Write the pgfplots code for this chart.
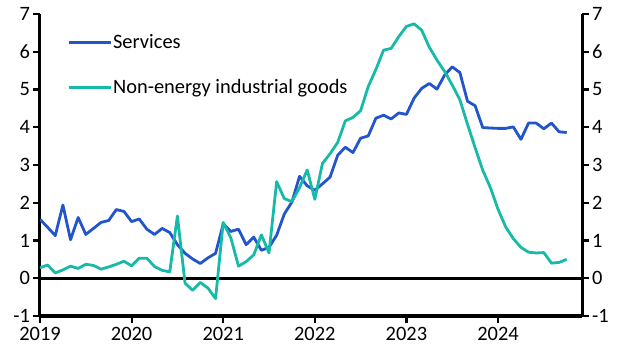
\documentclass[border=0pt]{standalone}
\usepackage{fontspec}
\setmainfont{Carlito}
\usepackage{pgfplots}
\usepackage{pgfplotstable}
\pgfplotsset{compat=1.18}
\definecolor{servblue}{RGB}{34,85,204}
\definecolor{goodteal}{RGB}{22,186,166}
\pgfplotstableread{
m serv good
0 1.56 0.28
1 1.35 0.35
2 1.13 0.14
3 1.94 0.22
4 1.02 0.32
5 1.61 0.26
6 1.16 0.37
7 1.32 0.34
8 1.48 0.24
9 1.53 0.30
10 1.82 0.37
11 1.77 0.45
12 1.50 0.33
13 1.57 0.53
14 1.30 0.53
15 1.16 0.31
16 1.32 0.21
17 1.21 0.17
18 0.89 1.65
19 0.66 -0.13
20 0.51 -0.32
21 0.39 -0.11
22 0.54 -0.26
23 0.66 -0.54
24 1.44 1.48
25 1.24 1.07
26 1.30 0.32
27 0.89 0.44
28 1.09 0.62
29 0.74 1.15
30 0.82 0.67
31 1.14 2.56
32 1.70 2.11
33 2.02 2.03
34 2.70 2.40
35 2.45 2.87
36 2.33 2.09
37 2.50 3.04
38 2.68 3.30
39 3.26 3.60
40 3.47 4.17
41 3.33 4.26
42 3.71 4.44
43 3.77 5.08
44 4.24 5.53
45 4.32 6.04
46 4.22 6.09
47 4.38 6.40
48 4.34 6.67
49 4.77 6.74
50 5.03 6.57
51 5.16 6.12
52 5.01 5.78
53 5.38 5.48
54 5.60 5.12
55 5.45 4.73
56 4.69 4.08
57 4.57 3.46
58 3.99 2.86
59 3.98 2.40
60 3.97 1.83
61 3.97 1.36
62 4.01 1.05
63 3.68 0.82
64 4.11 0.69
65 4.11 0.67
66 3.96 0.68
67 4.11 0.40
68 3.88 0.42
69 3.86 0.50
}\datatable
\begin{document}
\begin{tikzpicture}
\useasboundingbox (-40bp,-39bp) rectangle (587bp,316bp);
\pgfplotsset{
  common/.style={
    width=542bp, height=302bp, scale only axis,
    at={(0,0)}, anchor=south west,
    xmin=0, xmax=71, ymin=-1, ymax=7,
    ytick={-1,0,...,7},
    axis line style={line width=3bp, black, -},
    tick style={line width=2.2bp, black},
    major tick length=6.5bp,
    tick align=outside,
    ticklabel style={font=\fontsize{20.5}{24}\selectfont},
    /pgf/number format/assume math mode=true,
  }
}
\begin{axis}[common,
  axis x line*=bottom, axis y line*=left,
  xtick={0,12,...,60},
  xticklabels={2019,2020,2021,2022,2023,2024},
  xticklabel style={yshift=-1bp},
  extra y ticks={0},
  extra y tick labels={},
  extra y tick style={grid=major, major grid style={line width=3bp, black}, major tick length=0pt},
  legend style={draw=none, fill=none, at={(0.05,0.935)}, anchor=north west,
    font=\fontsize{20.5}{24}\selectfont, row sep=27bp, inner sep=0pt,
    nodes={inner sep=1bp}},
  legend cell align=left,
  legend image code/.code={\draw[#1] (0bp,0bp) -- (42bp,0bp);},
]
\addplot[servblue, line width=2.8bp, line join=round] table[x=m, y=serv] {\datatable};
\addlegendentry{Services}
\addplot[goodteal, line width=2.8bp, line join=round] table[x=m, y=good] {\datatable};
\addlegendentry{Non-energy industrial goods}
\end{axis}
\begin{axis}[common,
  axis x line=none, axis y line*=right,
]
\end{axis}
\end{tikzpicture}
\end{document}
